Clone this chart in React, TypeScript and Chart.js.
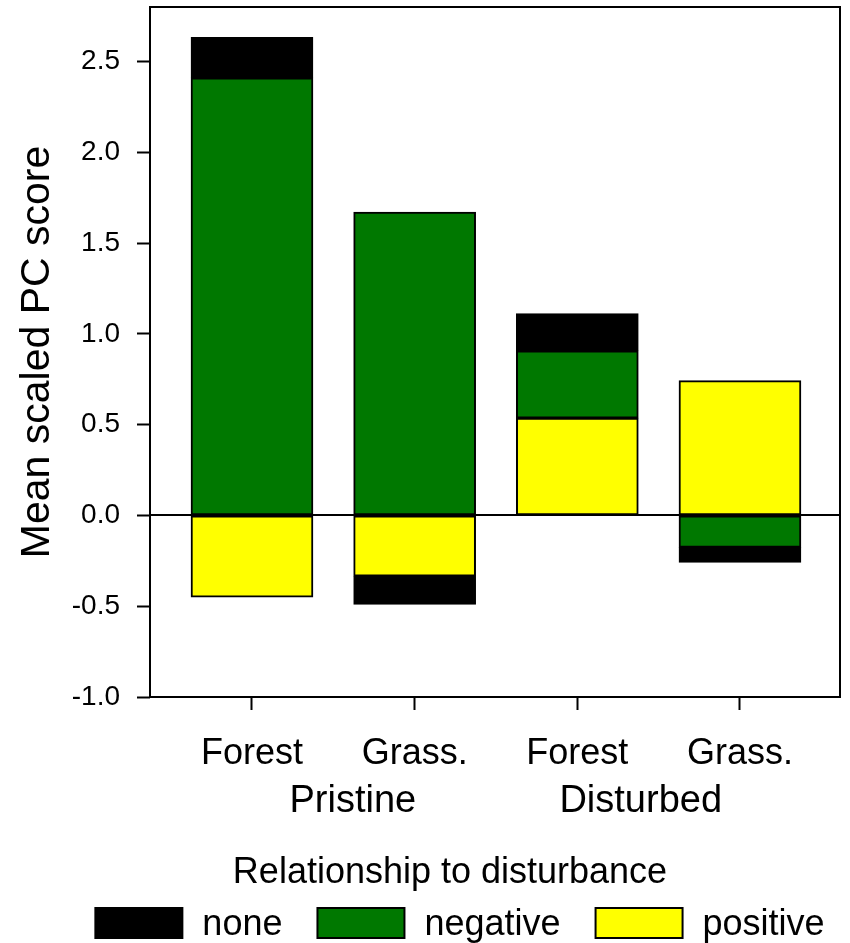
import React, { useEffect, useRef } from "react";
import { Chart, registerables } from "chart.js";

Chart.register(...registerables);

const FONT = "'Liberation Sans', Arial, sans-serif";

const categories = ["Forest", "Grass.", "Forest", "Grass."];
const groups = ["Pristine", "Disturbed"];
const groupAnchors = [0.62, 2.39];
const yTitle = "Mean scaled PC score";
const legendTitle = "Relationship to disturbance";
const yTickValues = [-1.0, -0.5, 0.0, 0.5, 1.0, 1.5, 2.0, 2.5];

const seriesNames = ["positive", "negative", "none"];
const seriesColors = ["#ffff00", "#007800", "#000000"];
const positiveValues = [-0.45, -0.335, 0.536, 0.742];
const negativeValues = [2.41, 1.67, 0.371, -0.176];
const noneValues = [0.223, -0.155, 0.204, -0.083];
const seriesValues = [positiveValues, negativeValues, noneValues];

const overlayPlugin = {
  id: "overlay",
  afterDraw(chart: any) {
    const { ctx, chartArea: a, scales } = chart;
    const xs = scales.x;
    const ys = scales.y;
    ctx.save();
    ctx.strokeStyle = "#000";
    ctx.lineWidth = 2;
    ctx.strokeRect(a.left, a.top, a.right - a.left, a.bottom - a.top);
    const y0 = Math.round(ys.getPixelForValue(0));
    ctx.beginPath();
    ctx.moveTo(a.left, y0);
    ctx.lineTo(a.right, y0);
    ctx.stroke();

    // group labels
    ctx.fillStyle = "#000";
    ctx.textAlign = "center";
    ctx.textBaseline = "alphabetic";
    ctx.font = `38px ${FONT}`;
    groups.forEach((g, i) => {
      ctx.fillText(g, xs.getPixelForValue(groupAnchors[i]), a.bottom + 115);
    });

    // legend
    ctx.font = `36px ${FONT}`;
    ctx.fillText(legendTitle, 450, a.bottom + 186);
    const order = [2, 1, 0];
    const boxW = 87;
    const boxH = 30;
    const textGap = 20;
    const itemGap = 35;
    const widths = order.map((k) => ctx.measureText(chart.data.datasets[k].label).width);
    const total = widths.reduce((s, w) => s + boxW + textGap + w, 0) + itemGap * (order.length - 1);
    let cx = 460 - total / 2;
    const boxTop = a.bottom + 211;
    ctx.textAlign = "left";
    order.forEach((k, j) => {
      const ds = chart.data.datasets[k];
      ctx.fillStyle = ds.backgroundColor;
      ctx.fillRect(cx, boxTop, boxW, boxH);
      ctx.lineWidth = 2;
      ctx.strokeStyle = "#000";
      ctx.strokeRect(cx, boxTop, boxW, boxH);
      ctx.fillStyle = "#000";
      ctx.fillText(ds.label, cx + boxW + textGap, a.bottom + 238);
      cx += boxW + textGap + widths[j] + itemGap;
    });
    ctx.restore();
  },
};

export default function App() {
  const ref = useRef<HTMLCanvasElement | null>(null);

  useEffect(() => {
    document.body.style.margin = "0";
    const canvas = ref.current;
    if (!canvas) return;
    const chart = new Chart(canvas, {
      type: "bar",
      data: {
        datasets: seriesNames.map((name, k) => ({
          label: name,
          data: seriesValues[k].map((v, i) => ({ x: i, y: v })),
          backgroundColor: seriesColors[k],
          borderColor: "#000000",
          borderWidth: 2,
          borderSkipped: false,
          barThickness: 122,
        })),
      },
      options: {
        animation: false,
        responsive: false,
        devicePixelRatio: 1,
        layout: { padding: { top: 7, right: 10, left: 0, bottom: 0 } },
        plugins: {
          legend: { display: false },
          tooltip: { enabled: false },
        },
        scales: {
          x: {
            type: "linear",
            stacked: true,
            offset: false,
            min: -0.627,
            max: 3.615,
            afterBuildTicks: (s: any) => {
              s.ticks = categories.map((_, i) => ({ value: i }));
            },
            afterFit: (s: any) => {
              s.height = 246;
              s.paddingLeft = 0;
              s.paddingRight = 0;
            },
            ticks: {
              callback: (v: any) => categories[v as number] ?? "",
              font: { family: FONT, size: 36 },
              color: "#000",
              padding: 22,
              maxRotation: 0,
              autoSkip: false,
            },
            grid: {
              offset: false,
              drawOnChartArea: false,
              drawTicks: true,
              tickLength: 13,
              tickColor: "#000",
              tickWidth: 2,
            },
            border: { display: false },
          },
          y: {
            type: "linear",
            stacked: true,
            min: -1.0,
            max: 2.8,
            afterBuildTicks: (s: any) => {
              s.ticks = yTickValues.map((v) => ({ value: v }));
            },
            afterFit: (s: any) => {
              s.width = 150;
              s.paddingTop = 0;
              s.paddingBottom = 0;
            },
            ticks: {
              callback: (v: any) => Number(v).toFixed(1),
              font: { family: FONT, size: 28 },
              color: "#000",
              padding: 17,
            },
            grid: {
              drawOnChartArea: false,
              drawTicks: true,
              tickLength: 13,
              tickColor: "#000",
              tickWidth: 2,
            },
            border: { display: false },
            title: {
              display: true,
              text: yTitle,
              font: { family: FONT, size: 41 },
              color: "#000",
              padding: { top: 13, bottom: 0 },
            },
          },
        },
      },
      plugins: [overlayPlugin],
    } as any);
    return () => chart.destroy();
  }, []);

  return (
    <div style={{ width: 850, height: 943 }}>
      <canvas ref={ref} width={850} height={943} style={{ display: "block" }} />
    </div>
  );
}
